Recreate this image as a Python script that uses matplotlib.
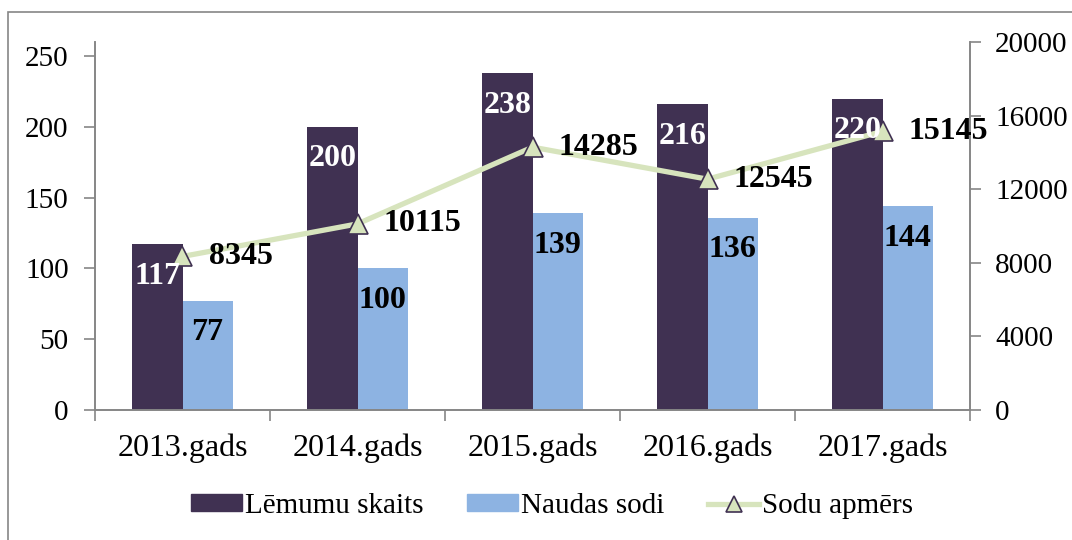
import matplotlib
matplotlib.use("Agg")
import matplotlib.pyplot as plt
import numpy as np
from matplotlib.patches import Patch, Rectangle
from matplotlib.lines import Line2D

years = ["2013.gads", "2014.gads", "2015.gads", "2016.gads", "2017.gads"]
lemumi = [117, 200, 238, 216, 220]
naudas_sodi = [77, 100, 139, 136, 144]
sodu_apmers = [8345, 10115, 14285, 12545, 15145]

DARK = "#403152"; LIGHT = "#8db3e2"; GREEN = "#d7e4bd"; AX = "#868686"
plt.rcParams["font.family"] = ["Liberation Serif", "DejaVu Serif"]
FS = 23    # x ticks and data labels
YFS = 21   # y ticks
LFS = 21   # legend

fig = plt.figure(figsize=(10.72, 5.4), dpi=100)
fig.patches.append(Rectangle((8/1072, -0.1), 1.2, 1 - 12/540 + 0.1, transform=fig.transFigure,
                             fill=False, ec=AX, lw=1.2))
ax = fig.add_axes([95/1072, 1 - 410/540, (970 - 95)/1072, (410 - 42)/540])
ax2 = ax.twinx()

x = np.arange(len(years))
w = 0.286
ax.bar(x - w/2, lemumi, w, color=DARK, zorder=2)
ax.bar(x + w/2, naudas_sodi, w, color=LIGHT, zorder=2)
ax2.plot(x, sodu_apmers, color=GREEN, lw=3.8, marker="^", ms=14, mfc=GREEN, mec=DARK, mew=1.2, zorder=3)

# labels drawn on ax2 so they sit above the line
for xi, v in zip(x, lemumi):
    ax2.annotate(str(v), (xi - w/2, v), xycoords=ax.transData, xytext=(0, -23), textcoords="offset points",
                 ha="center", va="center", color="white", fontsize=FS, fontweight="bold", zorder=5)
for xi, v in zip(x, naudas_sodi):
    ax2.annotate(str(v), (xi + w/2, v), xycoords=ax.transData, xytext=(0, -23), textcoords="offset points",
                 ha="center", va="center", color="black", fontsize=FS, fontweight="bold", zorder=5)
for xi, v in zip(x, sodu_apmers):
    ax2.annotate(str(v), (xi, v), xytext=(19, 0), textcoords="offset points",
                 ha="left", va="center", color="black", fontsize=FS, fontweight="bold", zorder=5)

ax.set_xlim(-0.5, len(years) - 0.5)
ax.set_ylim(0, 260)
ax.set_yticks([0, 50, 100, 150, 200, 250])
ax2.set_ylim(0, 20000)
ax2.set_yticks([0, 4000, 8000, 12000, 16000, 20000])
ax.set_xticks(x)
ax.set_xticklabels(years)
ax.set_xticks(np.arange(-0.5, len(years)), minor=True)
ax.tick_params(axis="x", which="major", length=0, pad=17, labelsize=FS)
ax.tick_params(axis="x", which="minor", length=8, color=AX, width=1.2)
ax.tick_params(axis="y", length=8, color=AX, width=1.2, labelsize=YFS, pad=11)
ax2.tick_params(axis="y", length=8, color=AX, width=1.2, labelsize=YFS, pad=10)
for a in (ax, ax2):
    a.spines["top"].set_visible(False)
    for s in ("left", "right", "bottom"):
        a.spines[s].set_color(AX)
        a.spines[s].set_linewidth(1.2)

handles = [Patch(color=DARK), Patch(color=LIGHT),
           Line2D([], [], color=GREEN, lw=3.8, marker="^", ms=12, mfc=GREEN, mec=DARK, mew=1.2)]
fig.legend(handles, ["Lēmumu skaits", "Naudas sodi", "Sodu apmērs"], loc="center",
           bbox_to_anchor=(0.515, 1 - 506/540), ncol=3, frameon=False, fontsize=LFS,
           handlelength=1.75, handleheight=0.5, handletextpad=0.1, columnspacing=1.5)

fig.savefig("out.png", dpi=100)
